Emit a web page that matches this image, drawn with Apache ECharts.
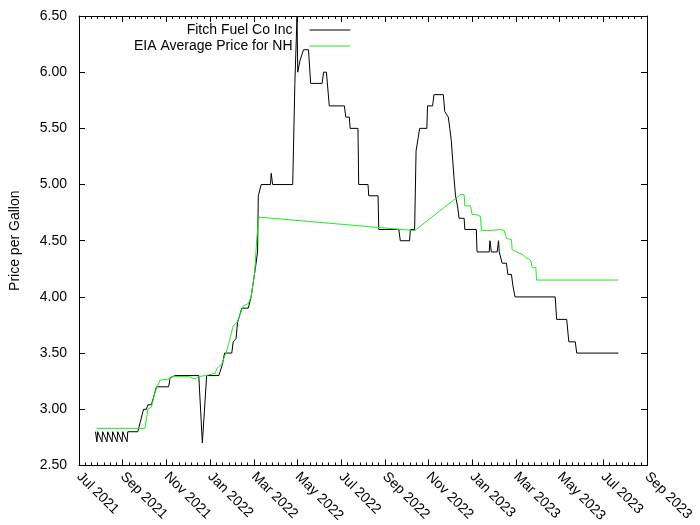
<!DOCTYPE html>
<html>
<head>
<meta charset="utf-8">
<script src="https://cdn.jsdelivr.net/npm/echarts@6/dist/echarts.min.js"></script>
<style>html,body{margin:0;padding:0;background:#fff}#c{width:700px;height:525px}</style>
</head>
<body>
<div id="c"></div>
<script>
// ---- data ----
var seriesNames = ['Fitch Fuel Co Inc', 'EIA Average Price for NH'];
var axisStart = '2021-07-01';
var axisEnd = '2023-09-01';
var xTickCount = 13;
var yTicks = [2.5, 6.5, 0.5];

var fitchDates = ['2021-07-24','2021-07-26','2021-07-27','2021-08-02','2021-08-03','2021-08-09','2021-08-10','2021-08-16','2021-08-17','2021-08-23','2021-08-24','2021-08-30','2021-08-31','2021-09-06','2021-09-07','2021-09-21','2021-09-29','2021-10-03','2021-10-05','2021-10-10','2021-10-17','2021-11-03','2021-11-05','2021-11-12','2021-12-15','2021-12-20','2021-12-26','2022-01-12','2022-01-17','2022-01-20','2022-01-30','2022-02-01','2022-02-05','2022-02-07','2022-02-13','2022-02-22','2022-02-26','2022-03-04','2022-03-07','2022-03-08','2022-03-12','2022-03-25','2022-03-26','2022-03-28','2022-04-25','2022-04-28','2022-04-30','2022-05-01','2022-05-02','2022-05-05','2022-05-10','2022-05-17','2022-05-20','2022-06-05','2022-06-07','2022-06-11','2022-06-15','2022-07-06','2022-07-08','2022-07-13','2022-07-14','2022-07-25','2022-07-26','2022-08-08','2022-08-09','2022-08-22','2022-08-23','2022-09-20','2022-09-22','2022-10-05','2022-10-06','2022-10-12','2022-10-14','2022-10-16','2022-10-19','2022-10-29','2022-10-30','2022-11-06','2022-11-08','2022-11-21','2022-11-23','2022-11-28','2022-11-30','2022-12-02','2022-12-04','2022-12-06','2022-12-08','2022-12-11','2022-12-13','2022-12-20','2022-12-21','2023-01-06','2023-01-07','2023-01-24','2023-01-25','2023-01-27','2023-02-04','2023-02-06','2023-02-07','2023-02-11','2023-02-17','2023-02-19','2023-02-24','2023-02-26','2023-03-01','2023-04-26','2023-04-28','2023-05-12','2023-05-15','2023-05-24','2023-05-26','2023-07-23'];
var fitchPrices = [2.80,2.71,2.80,2.71,2.80,2.71,2.80,2.71,2.80,2.71,2.80,2.71,2.80,2.71,2.80,2.80,3.00,3.00,3.04,3.04,3.20,3.20,3.28,3.30,3.30,2.70,3.30,3.30,3.40,3.50,3.50,3.60,3.63,3.77,3.90,3.90,4.00,4.26,4.40,4.90,5.00,5.00,5.10,5.00,5.00,5.90,5.90,6.50,6.00,6.10,6.20,6.20,5.90,5.90,6.00,6.00,5.70,5.70,5.60,5.60,5.50,5.50,5.00,5.00,4.90,4.90,4.60,4.60,4.50,4.50,4.60,4.60,5.30,5.30,5.50,5.50,5.70,5.70,5.80,5.80,5.65,5.60,5.50,5.40,5.40,5.05,4.90,4.80,4.70,4.70,4.60,4.60,4.40,4.40,4.50,4.40,4.40,4.50,4.40,4.30,4.30,4.20,4.20,4.10,4.00,4.00,3.80,3.80,3.60,3.60,3.50,3.50];

var eiaDates = ['2021-07-26','2021-10-01','2021-10-05','2021-10-10','2021-10-15','2021-10-22','2021-11-05','2021-11-07','2021-12-01','2021-12-10','2021-12-14','2021-12-24','2022-01-07','2022-01-09','2022-01-12','2022-01-16','2022-01-23','2022-01-28','2022-02-01','2022-02-07','2022-02-15','2022-02-22','2022-02-26','2022-03-03','2022-03-06','2022-03-09','2022-10-12','2022-12-15','2022-12-20','2022-12-21','2022-12-29','2022-12-31','2023-01-07','2023-01-12','2023-01-13','2023-01-24','2023-01-26','2023-02-09','2023-02-14','2023-02-17','2023-02-24','2023-02-25','2023-03-03','2023-03-11','2023-03-16','2023-03-20','2023-03-23','2023-03-25','2023-03-30','2023-03-31','2023-07-23'];
var eiaPrices = [2.83,2.83,3.00,3.02,3.15,3.26,3.27,3.29,3.29,3.27,3.29,3.30,3.32,3.36,3.38,3.40,3.52,3.64,3.74,3.78,3.92,3.94,4.00,4.22,4.53,4.71,4.59,4.91,4.91,4.81,4.81,4.735,4.73,4.715,4.59,4.59,4.60,4.60,4.59,4.52,4.51,4.42,4.40,4.38,4.35,4.34,4.32,4.26,4.26,4.15,4.15];

// ---- helpers ----
var DAY = 86400000;
function ts(s){ var p = s.split('-'); return Date.UTC(+p[0], +p[1]-1, +p[2]); }
var t0 = ts(axisStart);
function dayOf(s){ return (ts(s) - t0) / DAY; }
var spanDays = dayOf(axisEnd);
var xInterval = spanDays / xTickCount;
var MONTHS = ['Jan','Feb','Mar','Apr','May','Jun','Jul','Aug','Sep','Oct','Nov','Dec'];
function monthLabel(v){
  var d = new Date(t0 + Math.round(v) * DAY);
  var y = d.getUTCFullYear(), m = d.getUTCMonth();
  if (d.getUTCDate() > 15) { m += 1; if (m > 11) { m = 0; y += 1; } }
  return MONTHS[m] + ' ' + y;
}
function pairs(dates, vals){ return dates.map(function(d,i){ return [dayOf(d), vals[i]]; }); }

var FONT = 'Liberation Sans';
var tickCommon = { show: true, inside: true, length: 6, lineStyle: { color: '#000', width: 1 } };
var lineCommon = { show: true, onZero: false, lineStyle: { color: '#000', width: 1 } };
var GREEN = '#22e822';

function legendFor(name, top){
  return { data: [name], orient: 'vertical', align: 'right', right: 349, top: top, padding: 0,
    itemWidth: 41, itemHeight: 14,
    itemStyle: { opacity: 0, borderWidth: 0 },
    lineStyle: { width: 1 },
    textStyle: { fontSize: 14, color: '#000', fontFamily: FONT, padding: [0, 12, 0, 0] } };
}

var chart = echarts.init(document.getElementById('c'), null, { renderer: 'canvas' });
chart.setOption({
  animation: false,
  backgroundColor: '#fff',
  textStyle: { fontFamily: FONT },
  grid: { left: 75, right: 53, top: 16, bottom: 56, containLabel: false },
  legend: [ legendFor(seriesNames[0], 23), legendFor(seriesNames[1], 39) ],
  xAxis: [
    { type: 'value', position: 'bottom', min: 0, max: spanDays, interval: xInterval,
      axisLine: lineCommon, axisTick: tickCommon,
      minorTick: { show: true, splitNumber: 7, length: 3, lineStyle: { color: '#000', width: 1 } },
      splitLine: { show: false },
      axisLabel: { rotate: -45, margin: 9, color: '#000', fontSize: 14, fontFamily: FONT, formatter: monthLabel, showMinLabel: true, showMaxLabel: true } },
    { type: 'value', position: 'top', min: 0, max: spanDays, interval: xInterval,
      axisLine: lineCommon, axisTick: tickCommon,
      minorTick: { show: true, splitNumber: 7, length: 3, lineStyle: { color: '#000', width: 1 } },
      splitLine: { show: false }, axisLabel: { show: false } }
  ],
  yAxis: [
    { type: 'value', position: 'left', min: yTicks[0], max: yTicks[1], interval: yTicks[2],
      axisLine: lineCommon, axisTick: tickCommon, splitLine: { show: false },
      axisLabel: { color: '#000', fontSize: 14, fontFamily: FONT, margin: 12, formatter: function(v){ return v.toFixed(2); } },
      name: 'Price per Gallon', nameLocation: 'middle', nameRotate: 90, nameGap: 57,
      nameTextStyle: { color: '#000', fontSize: 14, fontFamily: FONT } },
    { type: 'value', position: 'right', min: yTicks[0], max: yTicks[1], interval: yTicks[2],
      axisLine: lineCommon, axisTick: tickCommon, splitLine: { show: false }, axisLabel: { show: false } }
  ],
  series: [
    { name: seriesNames[0], type: 'line', data: pairs(fitchDates, fitchPrices), symbol: 'none', showSymbol: false,
      lineStyle: { color: '#000', width: 1 }, itemStyle: { color: '#000' }, clip: true },
    { name: seriesNames[1], type: 'line', data: pairs(eiaDates, eiaPrices), symbol: 'none', showSymbol: false,
      lineStyle: { color: GREEN, width: 1 }, itemStyle: { color: GREEN }, clip: true }
  ]
});
</script>
</body>
</html>
